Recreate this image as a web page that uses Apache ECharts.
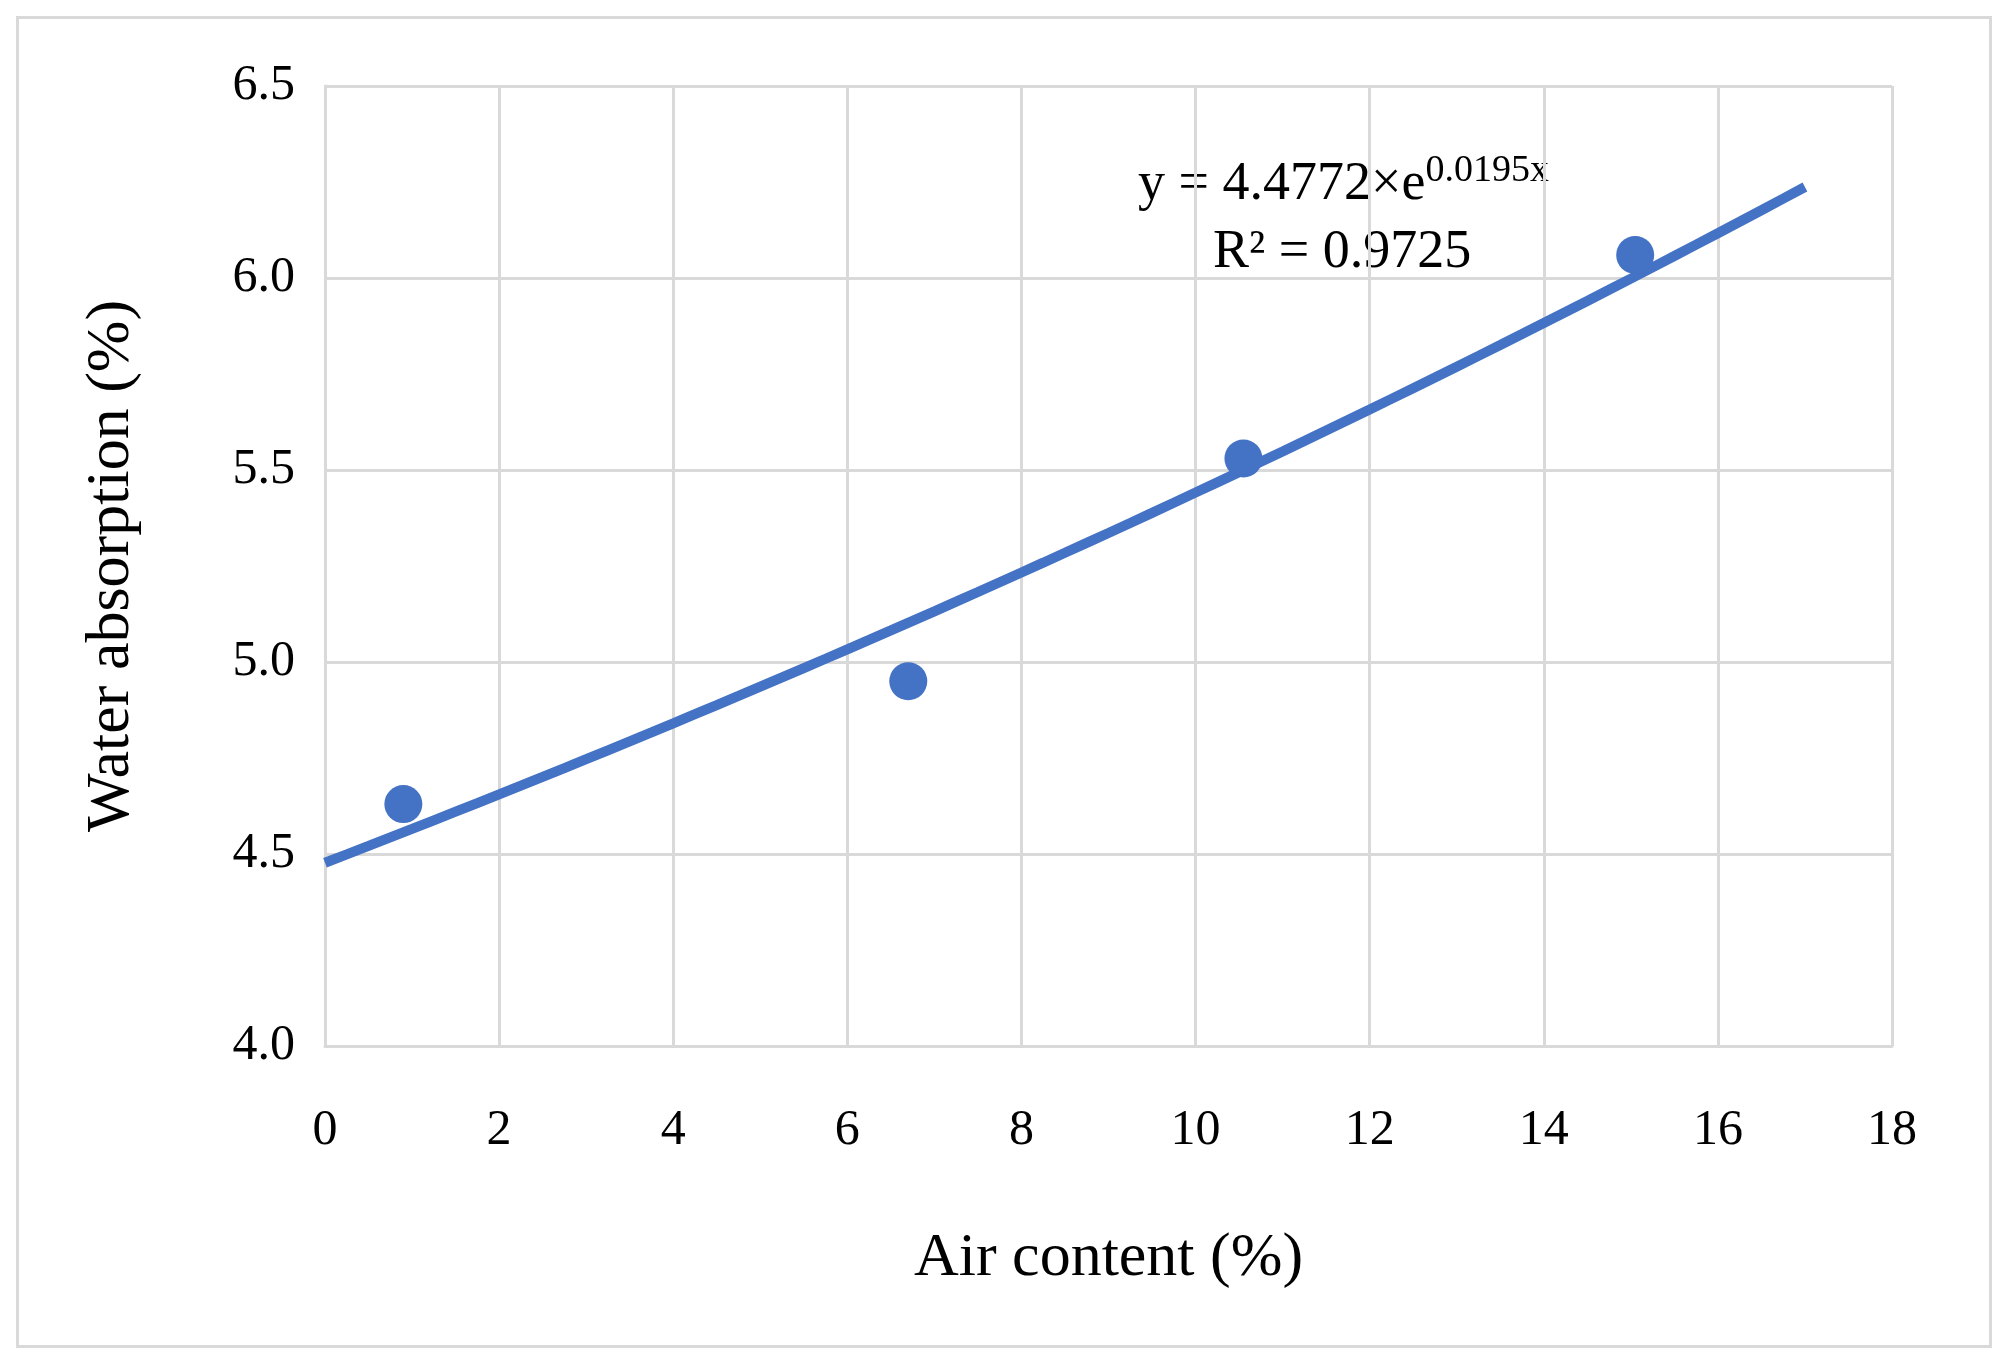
<!DOCTYPE html>
<html><head><meta charset="utf-8">
<script src="https://cdn.jsdelivr.net/npm/echarts@6/dist/echarts.min.js"></script>
<style>html,body{margin:0;padding:0;background:#fff}#box{width:2007px;height:1368px}</style>
</head><body><div id="box"></div>
<script>
var airContent = [0.9, 6.7, 10.55, 15.05];
var waterAbsorption = [4.63, 4.95, 5.53, 6.06];
// exponential trendline y = a*e^(b*x), as printed on the chart
var trendA = 4.4772, trendB = 0.0195;
var trendRange = [0, 17];

var points = airContent.map(function (x, i) { return [x, waterAbsorption[i]]; });
var trend = [];
for (var x = trendRange[0]; x <= trendRange[1] + 1e-9; x += 0.25) {
    trend.push([x, trendA * Math.exp(trendB * x)]);
}

var font = 'Liberation Serif';
var myChart = echarts.init(document.getElementById('box'));
var option = {
    backgroundColor: '#fff',
    textStyle: {fontFamily: font},
    grid: {left: 325, right: 115, top: 86, bottom: 322},
    xAxis: {
        type: 'value', min: 0, max: 18, interval: 2,
        name: 'Air content (%)', nameLocation: 'middle', nameGap: 182,
        nameTextStyle: {fontSize: 62, color: '#000', fontFamily: font},
        axisLine: {show: true, lineStyle: {color: '#d9d9d9', width: 3}},
        axisTick: {show: false},
        axisLabel: {fontSize: 50, color: '#000', margin: 60, fontFamily: font},
        splitLine: {lineStyle: {color: '#d9d9d9', width: 3}}
    },
    yAxis: {
        type: 'value', min: 4.0, max: 6.5, interval: 0.5,
        name: 'Water absorption (%)', nameLocation: 'middle', nameGap: 182,
        nameTextStyle: {fontSize: 62, color: '#000', fontFamily: font},
        axisLine: {show: true, lineStyle: {color: '#d9d9d9', width: 3}},
        axisTick: {show: false},
        axisLabel: {fontSize: 50, color: '#000', margin: 30, fontFamily: font,
            formatter: function (v) { return v.toFixed(1); }},
        splitLine: {lineStyle: {color: '#d9d9d9', width: 3}}
    },
    series: [
        {type: 'line', data: trend, showSymbol: false, smooth: false,
         lineStyle: {color: '#4472c4', width: 10}, z: 2},
        {type: 'scatter', data: points, symbolSize: 38,
         itemStyle: {color: '#4472c4', opacity: 1}, z: 3}
    ],
    graphic: [
        {type: 'rect', left: 15, top: 15,
         shape: {width: 1973, height: 1329},
         style: {fill: 'none', stroke: '#d9d9d9', lineWidth: 3}, silent: true},
        {type: 'text', left: 1138, top: 152,
         style: {text: '{n|y = 4.4772×e}{s|0.0195x}', rich: {
             n: {fontSize: 54, fontFamily: font, fill: '#000', verticalAlign: 'bottom'},
             s: {fontSize: 38, fontFamily: font, fill: '#000', verticalAlign: 'top', padding: [0, 0, 22, 0]}}}},
        {type: 'text', left: 1213, top: 226,
         style: {text: 'R² = 0.9725', fontSize: 54, fontFamily: font, fill: '#000'}}
    ]
};
myChart.setOption(option, true);
</script></body></html>
